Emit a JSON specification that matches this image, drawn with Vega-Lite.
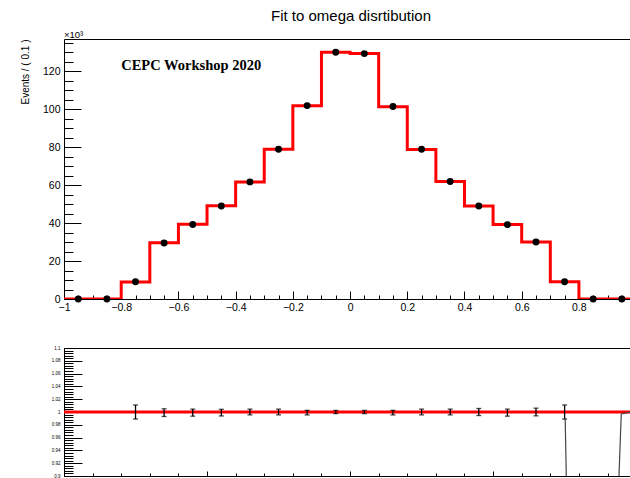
{
  "$schema": "https://vega.github.io/schema/vega-lite/v6.json",
  "background": "white",
  "padding": {"left": 20, "top": 8, "right": 0, "bottom": 0},
  "config": {
    "font": "Liberation Sans",
    "view": {"stroke": null},
    "axis": {"domainColor": "black", "tickColor": "black", "labelColor": "black", "titleColor": "black", "grid": false, "labelFont": "Liberation Sans", "titleFont": "Liberation Sans", "titleFontWeight": "normal", "labelOverlap": false, "labelFlush": false}
  },
  "datasets": {
    "hist": [
      {"c": -0.95, "lo": -1.0, "hi": -0.9, "events": 0},
      {"c": -0.85, "lo": -0.9, "hi": -0.8, "events": 0},
      {"c": -0.75, "lo": -0.8, "hi": -0.7, "events": 9100},
      {"c": -0.65, "lo": -0.7, "hi": -0.6, "events": 29500},
      {"c": -0.55, "lo": -0.6, "hi": -0.5, "events": 39300},
      {"c": -0.45, "lo": -0.5, "hi": -0.4, "events": 49000},
      {"c": -0.35, "lo": -0.4, "hi": -0.3, "events": 61700},
      {"c": -0.25, "lo": -0.3, "hi": -0.2, "events": 78900},
      {"c": -0.15, "lo": -0.2, "hi": -0.1, "events": 101900},
      {"c": -0.05, "lo": -0.1, "hi": 0.0, "events": 130000},
      {"c": 0.05, "lo": 0.0, "hi": 0.1, "events": 129300},
      {"c": 0.15, "lo": 0.1, "hi": 0.2, "events": 101400},
      {"c": 0.25, "lo": 0.2, "hi": 0.3, "events": 78900},
      {"c": 0.35, "lo": 0.3, "hi": 0.4, "events": 61900},
      {"c": 0.45, "lo": 0.4, "hi": 0.5, "events": 49000},
      {"c": 0.55, "lo": 0.5, "hi": 0.6, "events": 39200},
      {"c": 0.65, "lo": 0.6, "hi": 0.7, "events": 30000},
      {"c": 0.75, "lo": 0.7, "hi": 0.8, "events": 9100},
      {"c": 0.85, "lo": 0.8, "hi": 0.9, "events": 0},
      {"c": 0.95, "lo": 0.9, "hi": 1.0, "events": 0}
    ],
    "fit": [
      {"edge": -1.0, "fit": 0},
      {"edge": -0.9, "fit": 0},
      {"edge": -0.8, "fit": 9000},
      {"edge": -0.7, "fit": 29600},
      {"edge": -0.6, "fit": 39400},
      {"edge": -0.5, "fit": 49100},
      {"edge": -0.4, "fit": 61600},
      {"edge": -0.3, "fit": 78900},
      {"edge": -0.2, "fit": 101800},
      {"edge": -0.1, "fit": 130000},
      {"edge": 0.0, "fit": 129300},
      {"edge": 0.1, "fit": 101300},
      {"edge": 0.2, "fit": 78800},
      {"edge": 0.3, "fit": 61900},
      {"edge": 0.4, "fit": 49000},
      {"edge": 0.5, "fit": 39300},
      {"edge": 0.6, "fit": 30000},
      {"edge": 0.7, "fit": 9100},
      {"edge": 0.8, "fit": 0},
      {"edge": 0.9, "fit": 0},
      {"edge": 1.0, "fit": 0}
    ],
    "ratio": [
      {"c": -0.75, "lo": 0.989, "hi": 1.011},
      {"c": -0.65, "lo": 0.993, "hi": 1.005},
      {"c": -0.55, "lo": 0.9935, "hi": 1.0045},
      {"c": -0.45, "lo": 0.9938, "hi": 1.0042},
      {"c": -0.35, "lo": 0.9955, "hi": 1.0045},
      {"c": -0.25, "lo": 0.9955, "hi": 1.0045},
      {"c": -0.15, "lo": 0.9954, "hi": 1.0026},
      {"c": -0.05, "lo": 0.9975, "hi": 1.0025},
      {"c": 0.05, "lo": 0.9975, "hi": 1.0025},
      {"c": 0.15, "lo": 0.9954, "hi": 1.0026},
      {"c": 0.25, "lo": 0.9955, "hi": 1.0045},
      {"c": 0.35, "lo": 0.9955, "hi": 1.0045},
      {"c": 0.45, "lo": 0.9945, "hi": 1.0055},
      {"c": 0.55, "lo": 0.9935, "hi": 1.0045},
      {"c": 0.65, "lo": 0.994, "hi": 1.006},
      {"c": 0.75, "lo": 0.989, "hi": 1.011}
    ],
    "curve": [
      {"x": 0.752, "y": 0.99},
      {"x": 0.758, "y": 0.85},
      {"x": 0.936, "y": 0.85},
      {"x": 0.948, "y": 0.997},
      {"x": 0.98, "y": 1.0}
    ]
  },
  "spacing": 49,
  "bounds": "flush",
  "vconcat": [
    {
      "width": 566,
      "height": 260,
      "title": {"text": "Fit to omega disrtibution", "fontSize": 15, "fontWeight": "normal", "font": "Liberation Sans", "anchor": "middle", "dx": 4, "offset": 6, "color": "black"},
      "resolve": {"axis": {"x": "independent", "y": "independent"}},
      "layer": [
        {
          "data": {"name": "hist"},
          "mark": {"type": "rule", "color": "black", "strokeWidth": 1},
          "encoding": {
            "x": {"field": "lo", "type": "quantitative", "scale": {"domain": [-1, 0.9786], "nice": false, "zero": false},
              "axis": {"orient": "bottom", "title": null,
                "values": [-1,-0.95,-0.9,-0.85,-0.8,-0.75,-0.7,-0.65,-0.6,-0.55,-0.5,-0.45,-0.4,-0.35,-0.3,-0.25,-0.2,-0.15,-0.1,-0.05,0,0.05,0.1,0.15,0.2,0.25,0.3,0.35,0.4,0.45,0.5,0.55,0.6,0.65,0.7,0.75,0.8,0.85,0.9,0.95],
                "tickSize": {"condition": {"test": "abs(datum.value*5 - round(datum.value*5)) < 0.01", "value": -8}, "value": -4},
                "labelExpr": "abs(datum.value*5 - round(datum.value*5)) < 0.01 ? format(datum.value, '~g') : ''",
                "labelFontSize": 10.5, "labelPadding": 11}},
            "x2": {"field": "hi"},
            "y": {"field": "events", "type": "quantitative", "scale": {"domain": [0, 137000], "nice": false, "zero": false},
              "axis": {"orient": "left", "title": "Events / ( 0.1 )", "titleFontSize": 10, "titleAnchor": "end", "titlePadding": 12,
                "values": [0,5000,10000,15000,20000,25000,30000,35000,40000,45000,50000,55000,60000,65000,70000,75000,80000,85000,90000,95000,100000,105000,110000,115000,120000,125000,130000,135000],
                "tickSize": {"condition": {"test": "datum.value % 20000 === 0", "value": -17}, "value": -9},
                "labelExpr": "datum.value % 20000 === 0 ? format(datum.value/1000, 'd') : ''",
                "labelFontSize": 10.5, "labelPadding": 21}}
          }
        },
        {
          "data": {"name": "fit"},
          "mark": {"type": "line", "interpolate": "step-after", "color": "#ff0000", "strokeWidth": 3, "clip": true},
          "encoding": {
            "x": {"field": "edge", "type": "quantitative", "scale": {"domain": [-1, 0.9786], "nice": false, "zero": false},
              "axis": {"orient": "top", "ticks": false, "labels": false, "title": null}},
            "y": {"field": "fit", "type": "quantitative", "axis": null}
          }
        },
        {
          "data": {"name": "hist"},
          "mark": {"type": "point", "shape": "circle", "filled": true, "size": 48, "color": "black", "opacity": 1},
          "encoding": {
            "x": {"field": "c", "type": "quantitative", "axis": null},
            "y": {"field": "events", "type": "quantitative", "axis": null}
          }
        },
        {
          "data": {"values": [{}]},
          "mark": {"type": "text", "text": "CEPC Workshop 2020", "font": "Liberation Serif", "fontWeight": "bold", "fontSize": 14.5, "align": "left", "baseline": "alphabetic", "color": "black"},
          "encoding": {
            "x": {"datum": -0.8, "type": "quantitative", "axis": null},
            "y": {"datum": 120900, "type": "quantitative", "axis": null}
          }
        },
        {
          "data": {"values": [{}]},
          "mark": {"type": "text", "text": "×10³", "fontSize": 9.5, "align": "left", "baseline": "alphabetic", "dy": -1.5, "color": "black"},
          "encoding": {
            "x": {"datum": -1, "type": "quantitative", "axis": null},
            "y": {"datum": 137000, "type": "quantitative", "axis": null}
          }
        }
      ]
    },
    {
      "width": 566,
      "height": 128,
      "resolve": {"axis": {"x": "independent", "y": "independent"}},
      "layer": [
        {
          "data": {"values": [{}]},
          "mark": {"type": "rule", "color": "#ff0000", "strokeWidth": 3, "clip": true},
          "encoding": {
            "x": {"datum": -1, "type": "quantitative", "scale": {"domain": [-1, 0.9786], "nice": false, "zero": false},
              "axis": {"orient": "top", "ticks": false, "labels": false, "title": null}},
            "x2": {"datum": 1},
            "y": {"datum": 1, "type": "quantitative", "axis": null}
          }
        },
        {
          "data": {"name": "ratio"},
          "mark": {"type": "errorbar", "color": "black", "thickness": 1.3, "ticks": {"size": 5, "thickness": 1.3}},
          "encoding": {
            "x": {"field": "c", "type": "quantitative", "scale": {"domain": [-1, 0.9786], "nice": false, "zero": false},
              "axis": {"orient": "bottom", "title": null,
                "values": [-1,-0.9,-0.8,-0.7,-0.6,-0.5,-0.4,-0.3,-0.2,-0.1,0,0.1,0.2,0.3,0.4,0.5,0.6,0.7,0.8,0.9],
                "tickSize": {"condition": {"test": "abs(datum.value*2 - round(datum.value*2)) < 0.01", "value": -5}, "value": -3},
                "labelExpr": "abs(datum.value*2 - round(datum.value*2)) < 0.01 ? format(datum.value, '~g') : ''",
                "labelFontSize": 4.5, "labelPadding": 6}},
            "y": {"field": "lo", "type": "quantitative", "scale": {"domain": [0.9, 1.1], "nice": false, "zero": false},
              "axis": {"orient": "left", "title": null,
                "values": [0.9,0.904,0.908,0.912,0.916,0.92,0.924,0.928,0.932,0.936,0.94,0.944,0.948,0.952,0.956,0.96,0.964,0.968,0.972,0.976,0.98,0.984,0.988,0.992,0.996,1,1.004,1.008,1.012,1.016,1.02,1.024,1.028,1.032,1.036,1.04,1.044,1.048,1.052,1.056,1.06,1.064,1.068,1.072,1.076,1.08,1.084,1.088,1.092,1.096,1.1],
                "tickSize": {"condition": {"test": "abs(datum.value*50 - round(datum.value*50)) < 0.01", "value": -18}, "value": -9},
                "labelExpr": "abs(datum.value*50 - round(datum.value*50)) < 0.01 ? format(datum.value, '.2~f') : ''",
                "labelFontSize": 4.5, "labelPadding": 22}},
            "y2": {"field": "hi"}
          }
        },
        {
          "data": {"name": "curve"},
          "mark": {"type": "line", "color": "#444444", "strokeWidth": 1.2, "clip": true},
          "encoding": {
            "x": {"field": "x", "type": "quantitative", "axis": null},
            "y": {"field": "y", "type": "quantitative", "axis": null}
          }
        }
      ]
    }
  ]
}
